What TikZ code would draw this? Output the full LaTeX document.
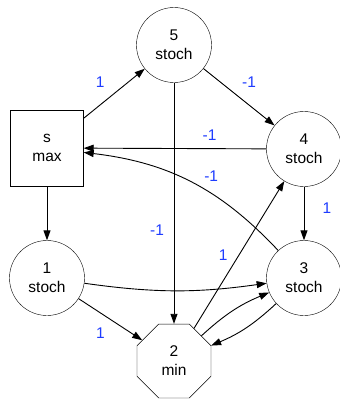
\documentclass[tikz,border=0pt]{standalone}
\usepackage{fontspec}
\setmainfont{Liberation Sans}
\usetikzlibrary{arrows.meta,shapes.geometric}
\definecolor{wtblue}{RGB}{30,60,255}

\begin{document}
\begin{tikzpicture}[
   x=1pt, y=-1pt,
   every node/.append style={align=center, font=\fontsize{15.5}{19}\selectfont},
   stoch/.style={draw, circle, minimum size=75pt, inner sep=0pt},
   maxbox/.style={draw, rectangle, minimum width=73pt, minimum height=76pt, inner sep=0pt},
   minoct/.style={draw, regular polygon, regular polygon sides=8, minimum size=80pt, inner sep=0pt},
   move/.style={-{Triangle[length=10pt,width=7pt]}, line width=0.9pt},
   wt/.style={text=wtblue}  % <-- edge weights
]
\useasboundingbox (0,0) rectangle (340,400);

\node[maxbox] (vs) at (47,148) {s\\max};
\node[stoch]  (v5) at (174,45)  {5\\stoch};
\node[stoch]  (v4) at (304,149) {4\\stoch};
\node[stoch]  (v1) at (47,278)  {1\\stoch};
\node[stoch]  (v3) at (304,278) {3\\stoch};
\node[minoct] (v2) at (174,361) {2\\min};

\draw[move] (vs) -- node[wt, pos=0.5, shift={(-14,-11.5)}] {1} (v5);
\draw[move] (v5) -- node[wt, pos=0.5, shift={(10,-15)}] {-1} (v4);
\draw[move] (v4) -- node[wt, pos=0.3, shift={(-2,-13)}] {-1} (vs);
\draw[move] (v3) to[bend right=20] node[wt, pos=0.37, shift={(-3,-19)}] {-1} (vs);
\draw[move] (vs) -- (v1);
\draw[move] (v4) -- node[wt, pos=0.5, shift={(23,-5)}] {1} (v3);
\draw[move] (v5) -- node[wt, pos=0.61, shift={(-17,0)}] {-1} (v2);
\draw[move] (v1) to[bend right=8] (v3);
\draw[move] (v1) -- node[wt, pos=0.5, shift={(-10,14)}] {1} (v2);
\draw[move] (v2) -- node[wt, pos=0.5, shift={(-16,0)}] {1} (v4);
\draw[move] (v2) to[bend left=10] (v3);
\draw[move] (v3) to[bend left=10] (v2);
\end{tikzpicture}
\end{document}
